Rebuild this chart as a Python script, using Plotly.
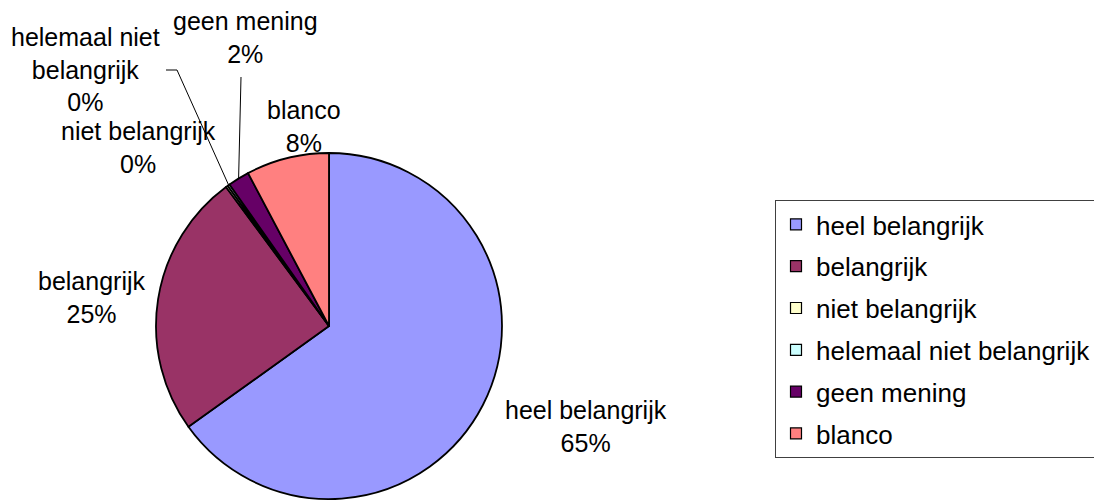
import math
import plotly.graph_objects as go

# ---- data ----
categories = ["heel belangrijk", "belangrijk", "niet belangrijk",
              "helemaal niet belangrijk", "geen mening", "blanco"]
values = [65.1, 24.75, 0.2, 0.2, 2.0, 7.75]
label_texts = ["heel belangrijk", "belangrijk", "niet belangrijk",
               "helemaal niet<br>belangrijk", "geen mening", "blanco"]

# ---- styles / layout ----
colors = ["#9999FF", "#993366", "#FFFFCC", "#CCFFFF", "#660066", "#FF8080"]
W, H = 1094, 500
FONT = "Liberation Sans, Arial, sans-serif"
FS = 25
FS_LEG = 26
pie_cx, pie_cy, pie_r = 329, 326, 173      # pixels
# label centre positions in pixels (layout, not data)
label_pos = [(586, 426), (92, 297), (138, 147), (85, 69), (245, 38), (304, 126)]
# leader line start points (label side), None = no leader
leader_from = [None, None, None, [(166, 70), (177, 70)], [(241, 77)], None]

fig = go.Figure()
fig.add_trace(go.Pie(
    labels=categories, values=values, sort=False, direction="clockwise",
    rotation=0, textinfo="none", hoverinfo="label+percent", showlegend=False,
    marker=dict(colors=colors, line=dict(color="black", width=1.8)),
    domain=dict(x=[(pie_cx - pie_r) / W, (pie_cx + pie_r) / W],
                y=[1 - (pie_cy + pie_r) / H, 1 - (pie_cy - pie_r) / H]),
))

# legend entries (one per category)
for i, cat in enumerate(categories):
    fig.add_trace(go.Scatter(
        x=[None], y=[None], mode="markers", name=cat, legendgroup=str(i),
        marker=dict(symbol="square", size=11, color=colors[i],
                    line=dict(color="black", width=1.2)),
        showlegend=True, hoverinfo="skip"))

total = sum(values)
cum = 0.0
annotations = []
shapes = []
for i, v in enumerate(values):
    mid = (cum + v / 2) / total * 2 * math.pi
    cum += v
    pct = round(v / total * 100)
    lx, ly = label_pos[i]
    annotations.append(dict(
        x=lx / W, y=1 - ly / H, xref="paper", yref="paper",
        text=f"{label_texts[i]}<br>{pct}%", showarrow=False,
        xanchor="center", yanchor="middle", align="center",
        font=dict(family=FONT, size=FS, color="black")))
    if leader_from[i]:
        ex = pie_cx + pie_r * math.sin(mid)
        ey = pie_cy - pie_r * math.cos(mid)
        pts = leader_from[i] + [(ex, ey)]
        for (x0, y0), (x1, y1) in zip(pts[:-1], pts[1:]):
            shapes.append(dict(type="line", xref="paper", yref="paper",
                               x0=x0 / W, y0=1 - y0 / H, x1=x1 / W, y1=1 - y1 / H,
                               line=dict(color="black", width=1)))

fig.update_layout(
    width=W, height=H, margin=dict(l=0, r=0, t=0, b=0, autoexpand=False),
    paper_bgcolor="white", plot_bgcolor="white",
    font=dict(family=FONT, size=FS, color="black"),
    xaxis=dict(visible=False), yaxis=dict(visible=False),
    annotations=annotations, shapes=shapes,
    showlegend=True,
    legend=dict(x=775 / W, y=1 - 200 / H, xanchor="left", yanchor="top",
                bordercolor="#404040", borderwidth=1, bgcolor="white",
                tracegroupgap=5, itemclick=False, itemdoubleclick=False,
                font=dict(family=FONT, size=FS_LEG, color="black")),
)
fig.write_html("out.html", config={"displayModeBar": False},
               post_script="document.body.style.margin='0';"
                           "document.body.style.overflow='hidden';")
